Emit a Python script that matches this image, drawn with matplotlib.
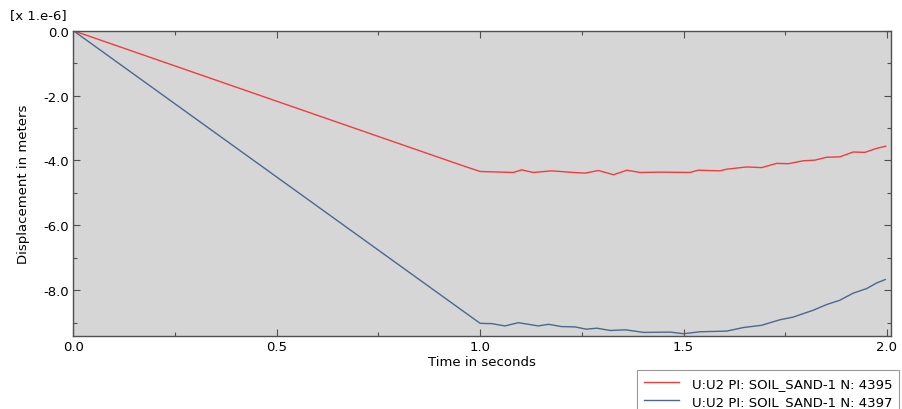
import matplotlib
matplotlib.use('Agg')
import matplotlib.pyplot as plt
from matplotlib.ticker import MultipleLocator, FormatStrFormatter

matplotlib.rcParams.update({'font.size': 9, 'font.family': 'DejaVu Sans'})

# time [s] and displacement [x 1e-6 m]
t_red = [0.0, 0.950, 1.000, 1.082, 1.102, 1.131, 1.176, 1.229, 1.258, 1.291, 1.328,
         1.361, 1.393, 1.442, 1.516, 1.536, 1.590, 1.606, 1.655, 1.692, 1.729,
         1.758, 1.794, 1.823, 1.852, 1.884, 1.917, 1.946, 1.974, 1.997]
u_red = [0.0, -4.13, -4.34, -4.37, -4.29, -4.37, -4.32, -4.37, -4.39, -4.31, -4.44,
         -4.30, -4.37, -4.36, -4.37, -4.30, -4.32, -4.27, -4.20, -4.22, -4.09,
         -4.10, -4.01, -3.99, -3.90, -3.89, -3.74, -3.75, -3.63, -3.56]

t_blue = [0.0, 0.950, 1.000, 1.029, 1.061, 1.094, 1.143, 1.168, 1.200, 1.233, 1.261,
          1.287, 1.320, 1.357, 1.402, 1.467, 1.500, 1.541, 1.606, 1.647, 1.692,
          1.737, 1.769, 1.818, 1.852, 1.884, 1.917, 1.950, 1.974, 1.996]
u_blue = [0.0, -8.57, -9.02, -9.03, -9.10, -9.00, -9.10, -9.05, -9.12, -9.13, -9.20,
          -9.17, -9.24, -9.22, -9.30, -9.29, -9.34, -9.28, -9.26, -9.15, -9.08,
          -8.91, -8.83, -8.62, -8.44, -8.31, -8.09, -7.95, -7.78, -7.67]

labels = ['U:U2 PI: SOIL_SAND-1 N: 4395', 'U:U2 PI: SOIL_SAND-1 N: 4397']

fig = plt.figure(figsize=(9.02, 4.10), dpi=100)
ax = fig.add_axes([0.0813, 0.1773, 0.9065, 0.7454])
ax.set_facecolor('#d6d6d6')

ax.plot(t_red, u_red, color='#f23c3c', linewidth=1.0, label=labels[0])
ax.plot(t_blue, u_blue, color='#4a6890', linewidth=1.0, label=labels[1])

ax.set_xlim(0.0, 2.01)
ax.set_ylim(-9.42, 0.0)
ax.xaxis.set_major_locator(MultipleLocator(0.5))
ax.xaxis.set_minor_locator(MultipleLocator(0.25))
ax.yaxis.set_major_locator(MultipleLocator(2.0))
ax.yaxis.set_minor_locator(MultipleLocator(1.0))
ax.xaxis.set_major_formatter(FormatStrFormatter('%.1f'))
ax.yaxis.set_major_formatter(FormatStrFormatter('%.1f'))
ax.tick_params(which='both', direction='in', top=True, right=True, colors='#505050',
               labelcolor='black', labelsize=9.5)
ax.tick_params(which='major', length=5, width=0.8, pad=3)
ax.tick_params(which='minor', length=3, width=0.8)
for s in ax.spines.values():
    s.set_color('#505050')
    s.set_linewidth(1.0)

ax.set_xlabel('Time in seconds', fontsize=9.5, labelpad=1)
ax.set_ylabel('Displacement in meters', fontsize=9.5, labelpad=10)
fig.text(10/902, 1-16/410, '[x 1.e-6]', fontsize=9.5, va='center', ha='left')

leg = fig.legend(loc='upper left', bbox_to_anchor=(637/902, 1-371/410), fontsize=9.5,
                 frameon=True, fancybox=False, handlelength=2.65, handletextpad=1.0,
                 borderpad=0.5, labelspacing=0.38, borderaxespad=0)
leg.get_frame().set_edgecolor('#808080')
leg.get_frame().set_linewidth(0.8)

plt.savefig('out.png', dpi=100)
